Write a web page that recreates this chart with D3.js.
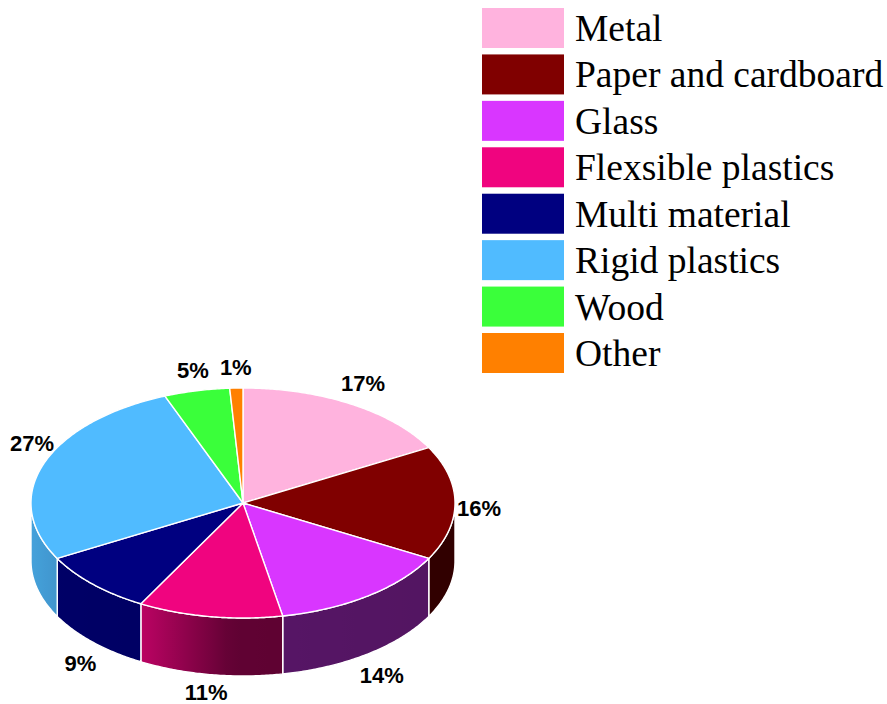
<!DOCTYPE html>
<html>
<head>
<meta charset="utf-8">
<script src="https://cdn.jsdelivr.net/npm/d3@7"></script>
<style>
  html, body { margin: 0; padding: 0; background: #ffffff; }
  svg { display: block; }
</style>
</head>
<body>
<svg id="chart" width="887" height="704"></svg>
<script>
// Packaging waste by material, share of total (%)
const categories = ["Metal", "Paper and cardboard", "Glass", "Flexsible plastics",
                    "Multi material", "Rigid plastics", "Wood", "Other"];
const shares = [17, 16, 14, 11, 9, 27, 5, 1];
const colors = ["#ffb3de", "#800000", "#d936ff", "#f0047f",
                "#000080", "#50bbff", "#3aff3a", "#ff8000"];

const svg = d3.select("#chart");
const H = 704;

// Tilted pie geometry
const cx = 243, cy = 503, rx = 212, ry = 115, depth = 58;

const pie = d3.pie().sort(null).value(d => d.value).startAngle(0).endAngle(2 * Math.PI);
const data = categories.map((c, i) => ({ name: c, value: shares[i], color: colors[i] }));
const arcs = pie(data);

const pt = (a, dy = 0) => [cx + rx * Math.sin(a), cy - ry * Math.cos(a) + dy];
const arcPts = (a0, a1, dy = 0) => {
  const n = Math.max(2, Math.ceil(Math.abs(a1 - a0) / 0.01));
  return d3.range(n + 1).map(k => pt(a0 + (a1 - a0) * k / n, dy));
};
const line = d3.line();

// Side-wall lighting: brighter on the left, darker toward the right
const shade = d3.scaleLinear()
  .domain([-1, -0.87, -0.48, -0.05, 1])
  .range([0.86, 0.80, 0.78, 0.40, 0.38])
  .clamp(true);
const dim = (c, k) => { const r = d3.rgb(c); return d3.rgb(r.r * k, r.g * k, r.b * k).formatHex(); };

const defs = svg.append("defs");
const sides = svg.append("g");
const tops = svg.append("g");

arcs.forEach((a, i) => {
  const s = Math.max(a.startAngle, Math.PI / 2);
  const e = Math.min(a.endAngle, 3 * Math.PI / 2);
  if (s < e) {
    const upper = arcPts(s, e);
    const lower = arcPts(e, s, depth);
    const xs = upper.map(p => p[0]);
    const x0 = d3.min(xs), x1 = d3.max(xs);
    const gid = "side" + i;
    const grad = defs.append("linearGradient")
      .attr("id", gid)
      .attr("gradientUnits", "userSpaceOnUse")
      .attr("x1", x0).attr("x2", x1).attr("y1", 0).attr("y2", 0);
    d3.range(11).forEach(k => {
      const x = x0 + (x1 - x0) * k / 10;
      grad.append("stop")
        .attr("offset", k / 10)
        .attr("stop-color", dim(a.data.color, shade((x - cx) / rx)));
    });
    sides.append("path")
      .attr("d", line(upper.concat(lower)) + "Z")
      .attr("fill", `url(#${gid})`)
      .attr("stroke", "#ffffff")
      .attr("stroke-width", 1.4)
      .attr("stroke-linejoin", "round");
  }
  tops.append("path")
    .attr("d", line([[cx, cy]].concat(arcPts(a.startAngle, a.endAngle))) + "Z")
    .attr("fill", a.data.color)
    .attr("stroke", "#ffffff")
    .attr("stroke-width", 1.4)
    .attr("stroke-linejoin", "round");
});

// Percentage labels placed just outside each slice's rim
const labelSize = 22;
const labels = svg.append("g")
  .attr("font-family", "'Liberation Sans', Arial, sans-serif")
  .attr("font-weight", "bold")
  .attr("font-size", labelSize)
  .attr("fill", "#000000")
  .attr("text-anchor", "middle");

arcs.forEach(a => {
  const m = (a.startAngle + a.endAngle) / 2;
  const c = Math.cos(m);
  const txt = a.data.value + "%";
  const t = labels.append("text").text(txt);
  const w = t.node().getComputedTextLength();
  const front = c < -0.05;
  const base = front ? cy + depth : cy;
  const gap = Math.abs(c) < 0.05 ? -5 : 21 * Math.sign(c);
  const x = Math.max(cx + (rx + 2 + w / 2) * Math.sin(m), w / 2 + 10);
  const y = Math.min(base - ry * c - gap, H - 12);
  t.attr("x", x).attr("y", y + labelSize * 0.36);
});

// Legend
const legendY = d3.scaleBand().domain(categories).range([8, 373]).paddingInner(0.1385);
const legend = svg.append("g");
const rows = legend.selectAll("g").data(data).join("g")
  .attr("transform", d => `translate(0,${legendY(d.name)})`);
rows.append("rect")
  .attr("x", 482).attr("y", 0)
  .attr("width", 82).attr("height", legendY.bandwidth())
  .attr("fill", d => d.color);
rows.append("text")
  .attr("x", 575)
  .attr("y", legendY.bandwidth() / 2 + 13)
  .attr("font-family", "'Liberation Serif', 'Times New Roman', serif")
  .attr("font-size", 37.5)
  .attr("fill", "#000000")
  .text(d => d.name);
</script>
</body>
</html>
